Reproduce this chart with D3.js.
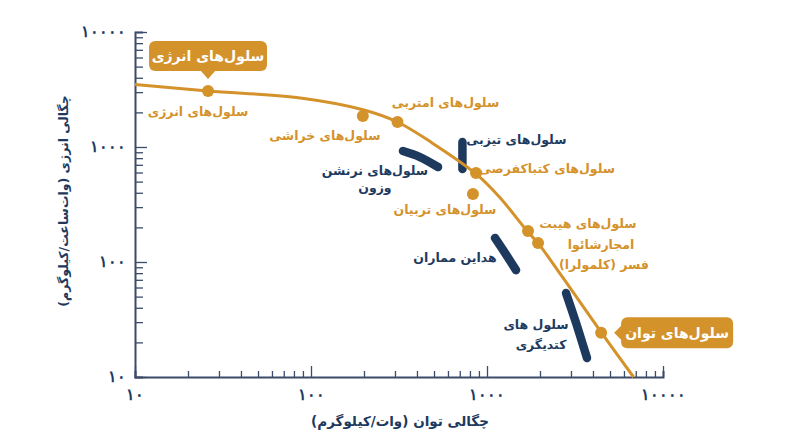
<!DOCTYPE html>
<html><head><meta charset="utf-8">
<script src="https://cdn.jsdelivr.net/npm/d3@7"></script>
<style>
html,body{margin:0;padding:0;background:#fff;}
svg{display:block;font-family:"DejaVu Sans","Noto Sans",sans-serif;}
</style></head>
<body>
<svg id="chart" width="800" height="447"></svg>
<script>
// ---- data ----
const xTickValues = [10, 100, 1000, 10000];
const xTickLabels = ["۱۰", "۱۰۰", "۱۰۰۰", "۱۰۰۰۰"];
const yTickValues = [10, 100, 1000, 10000];
const yTickLabels = ["۱۰", "۱۰۰", "۱۰۰۰", "۱۰۰۰۰"];

const curveX = [10, 26, 87, 200, 310, 490, 870, 1190, 1710, 1950, 2700, 4500, 6800];
const curveY = [3500, 3070, 2670, 2100, 1650, 1080, 580, 360, 182, 146, 73, 24, 10];

const pointNames = ["energy", "scratch", "amtrobi", "ktba", "tribian", "hybrid1", "hybrid2", "power"];
const pointX = [26, 197, 310, 866, 832, 1710, 1950, 4450];
const pointY = [3070, 1860, 1650, 594, 390, 186, 146, 24.2];

const segNames = ["narnesh", "tizbi", "hodain", "kondigari"];
const segX = [[333, 416, 527], [725, 725], [1110, 1265, 1462], [2812, 3207, 3700]];
const segY = [[923, 818, 670], [1105, 645], [162, 120, 85], [53.7, 29.5, 14.6]];

const xTitle = "چگالی توان (وات/کیلوگرم)";
const yTitle = "چگالی انرژی (وات‌ساعت/کیلوگرم)";

// ---- layout / styles ----
const ORANGE = "#D4922A";
const NAVY = "#1D3A5E";
const AXIS = "#3B4B68";
const svg = d3.select("#chart");
const x = d3.scaleLog().domain([10, 10000]).range([135, 663]);
const y = d3.scaleLog().domain([10, 10000]).range([377, 32]);

// axes
const minorX = [], minorY = [];
for (let d = 10; d < 10000; d *= 10) for (let k = 2; k <= 9; k++) { minorX.push(d * k); minorY.push(d * k); }

const gx = svg.append("g").attr("transform", `translate(0,${y(10)})`);
gx.call(d3.axisTop(x).tickValues(minorX).tickSize(6).tickFormat(""));
gx.append("g").call(d3.axisTop(x).tickValues(xTickValues).tickSize(11).tickFormat(""));
gx.selectAll(".domain").attr("stroke", AXIS).attr("stroke-width", 2);
gx.selectAll(".tick line").attr("stroke", AXIS).attr("stroke-width", 1.3);
gx.selectAll(".domain").filter((d, i) => i > 0).remove();
gx.selectAll(".xl").data(xTickValues).enter().append("text")
  .attr("x", d => x(d)).attr("y", 17).attr("dy", "0.35em").attr("text-anchor", "middle")
  .attr("font-size", 16).attr("font-weight", "bold").attr("fill", NAVY)
  .text((d, i) => xTickLabels[i]);

const gy = svg.append("g").attr("transform", `translate(${x(10)},0)`);
gy.call(d3.axisRight(y).tickValues(minorY).tickSize(8).tickFormat(""));
gy.append("g").call(d3.axisRight(y).tickValues(yTickValues).tickSize(12).tickFormat(""));
gy.selectAll(".domain").attr("stroke", AXIS).attr("stroke-width", 2);
gy.selectAll(".tick line").attr("stroke", AXIS).attr("stroke-width", 1.3);
gy.selectAll(".domain").filter((d, i) => i > 0).remove();
gy.selectAll(".yl").data(yTickValues).enter().append("text")
  .attr("x", -9).attr("y", d => y(d)).attr("dy", "0.3em").attr("text-anchor", "end")
  .attr("font-size", 16).attr("font-weight", "bold").attr("fill", NAVY)
  .text((d, i) => yTickLabels[i]);

// axis titles
svg.append("text").attr("x", 400).attr("y", 421).attr("dy", "0.35em").attr("text-anchor", "middle")
  .attr("font-size", 13.5).attr("font-weight", "bold").attr("fill", NAVY).text(xTitle);
svg.append("text").attr("transform", "translate(64,201) rotate(-90)").attr("dy", "0.35em")
  .attr("text-anchor", "middle").attr("font-size", 12.5).attr("font-weight", "bold").attr("fill", NAVY).text(yTitle);

// navy segments
const segLine = d3.line().x(d => x(d[0])).y(d => y(d[1])).curve(d3.curveCatmullRom);
segNames.forEach((n, i) => {
  svg.append("path").datum(segX[i].map((v, j) => [v, segY[i][j]]))
    .attr("d", segLine).attr("fill", "none").attr("stroke", NAVY)
    .attr("stroke-width", 8.5).attr("stroke-linecap", "round");
});

// main curve
const curveData = curveX.map((v, i) => [v, curveY[i]]);
svg.append("path").datum(curveData)
  .attr("d", d3.line().x(d => x(d[0])).y(d => y(d[1])).curve(d3.curveCatmullRom))
  .attr("fill", "none").attr("stroke", ORANGE).attr("stroke-width", 3);

// points
svg.selectAll(".pt").data(pointNames).enter().append("circle")
  .attr("cx", (d, i) => x(pointX[i])).attr("cy", (d, i) => y(pointY[i])).attr("r", 6).attr("fill", ORANGE);

// labels
const P = n => { const i = pointNames.indexOf(n); return [x(pointX[i]), y(pointY[i])]; };
const S = n => { const i = segNames.indexOf(n); return [x(segX[i][0]), y(segY[i][0])]; };
const labels = [
  { a: P("energy"), dx: -10, dy: 21, t: "سلول‌های انرژی", c: ORANGE },
  { a: P("scratch"), dx: -38, dy: 20, t: "سلول‌های خراشی", c: ORANGE },
  { a: P("amtrobi"), dx: 48, dy: -19, t: "سلول‌های امتربی", c: ORANGE },
  { a: P("ktba"), dx: 71, dy: -4, t: "سلول‌های کتباکفرصی", c: ORANGE },
  { a: P("tribian"), dx: -28, dy: 16, t: "سلول‌های تربیان", c: ORANGE },
  { a: P("hybrid1"), dx: 60, dy: -7, t: "سلول‌های هیبت", c: ORANGE },
  { a: P("hybrid1"), dx: 73, dy: 14, t: "امجارشائوا", c: ORANGE },
  { a: P("hybrid1"), dx: 76, dy: 34, t: "فسر (کلمولرا)", c: ORANGE },
  { a: S("tizbi"), dx: 54, dy: -2, t: "سلول‌های تیزبی", c: NAVY },
  { a: S("narnesh"), dx: -28, dy: 20, t: "سلول‌های نرنشن", c: NAVY },
  { a: S("narnesh"), dx: -28, dy: 37, t: "وزون", c: NAVY },
  { a: S("hodain"), dx: -40, dy: 20, t: "هداین مماران", c: NAVY },
  { a: S("kondigari"), dx: -30, dy: 32, t: "سلول های", c: NAVY },
  { a: S("kondigari"), dx: -25, dy: 52, t: "کتدیگری", c: NAVY }
];
svg.selectAll(".lbl").data(labels).enter().append("text")
  .attr("x", d => d.a[0] + d.dx).attr("y", d => d.a[1] + d.dy).attr("dy", "0.35em")
  .attr("text-anchor", "middle").attr("font-size", 12.5).attr("font-weight", "bold")
  .attr("fill", d => d.c).text(d => d.t);

// callouts
function callout(cx, cy, w, h, tip, txt) {
  const g = svg.append("g");
  g.append("rect").attr("x", cx - w / 2).attr("y", cy - h / 2).attr("width", w).attr("height", h)
    .attr("rx", 6).attr("fill", ORANGE);
  g.append("path").attr("d", tip).attr("fill", ORANGE);
  g.append("text").attr("x", cx).attr("y", cy).attr("dy", "0.35em").attr("text-anchor", "middle")
    .attr("font-size", 14).attr("font-weight", "bold").attr("fill", "#fff").text(txt);
}
const pe = P("energy");
callout(pe[0], pe[1] - 35, 118, 30,
  `M${pe[0] - 8},${pe[1] - 21} L${pe[0]},${pe[1] - 12} L${pe[0] + 8},${pe[1] - 21} Z`, "سلول‌های انرژی");
const pp = P("power");
callout(pp[0] + 76, pp[1], 112, 31,
  `M${pp[0] + 21},${pp[1] - 8} L${pp[0] + 13},${pp[1]} L${pp[0] + 21},${pp[1] + 8} Z`, "سلول‌های توان");
</script>
</body></html>
